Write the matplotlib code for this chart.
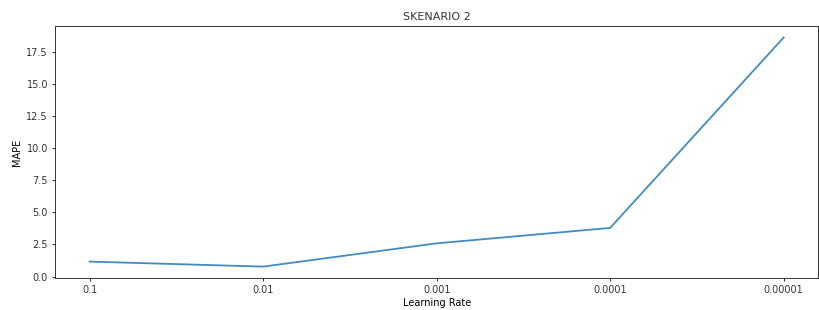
import matplotlib
matplotlib.use("Agg")
import matplotlib.pyplot as plt

learning_rates = ["0.1", "0.01", "0.001", "0.0001", "0.00001"]
mape = [1.17, 0.78, 2.59, 3.79, 18.6]

plt.rcParams['font.size'] = 7
plt.rcParams['xtick.major.size'] = 2.5
plt.rcParams['ytick.major.size'] = 2.5
plt.rcParams['xtick.major.pad'] = 2.5
plt.rcParams['ytick.major.pad'] = 2.5
plt.rcParams['axes.linewidth'] = 0.7
plt.rcParams['text.color'] = '#333333'
plt.rcParams['xtick.color'] = '#333333'
plt.rcParams['ytick.color'] = '#333333'
plt.rcParams['axes.edgecolor'] = '#333333'
fig = plt.figure(figsize=(8.2, 3.1), dpi=100)
ax = fig.add_axes([0.067, 0.103, 0.931, 0.813])
ax.plot(learning_rates, mape, color="#1f77b4", linewidth=1.3, alpha=0.85)
ax.set_title("SKENARIO 2", fontsize=8, pad=4.5)
ax.set_xlabel("Learning Rate", labelpad=2)
ax.set_ylabel("MAPE", labelpad=3)
ax.set_yticks([0.0, 2.5, 5.0, 7.5, 10.0, 12.5, 15.0, 17.5])
fig.savefig("out.png", dpi=100)
